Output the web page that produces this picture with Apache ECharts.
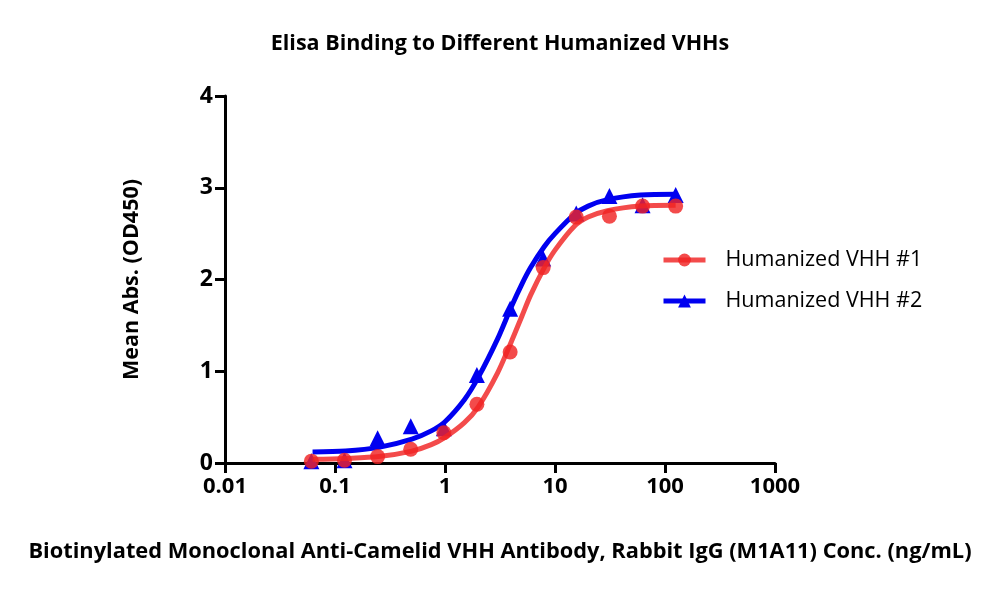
<!DOCTYPE html>
<html>
<head>
<meta charset="utf-8">
<title>Elisa Binding to Different Humanized VHHs</title>
<script src="https://cdn.jsdelivr.net/npm/echarts@6/dist/echarts.min.js"></script>
<style>
  html, body { margin: 0; padding: 0; background: #fff; }
  #chart { width: 1000px; height: 614px; }
</style>
</head>
<body>
<div id="chart"></div>
<script>
// concentrations (ng/mL), 2-fold dilution series
const conc = [0.061, 0.122, 0.244, 0.488, 0.977, 1.95, 3.91, 7.81, 15.6, 31.25, 62.5, 125];
const vhh1 = [0.02, 0.03, 0.07, 0.15, 0.33, 0.64, 1.21, 2.13, 2.68, 2.69, 2.80, 2.80];
const vhh2 = [0.02, 0.03, 0.27, 0.40, 0.38, 0.96, 1.68, 2.23, 2.72, 2.91, 2.81, 2.92];

// fitted curves
const fitX = [0.0625, 0.125, 0.25, 0.5, 0.75, 1, 1.5, 2, 3, 4, 5, 6, 8, 10, 15, 20, 30, 60, 125];
const fit1 = [0.04, 0.05, 0.07, 0.13, 0.20, 0.28, 0.44, 0.61, 0.98, 1.32, 1.60, 1.83, 2.13, 2.32, 2.58, 2.68, 2.75, 2.80, 2.81];
const fit2 = [0.12, 0.13, 0.17, 0.26, 0.35, 0.45, 0.69, 0.93, 1.35, 1.70, 1.95, 2.13, 2.36, 2.50, 2.71, 2.80, 2.87, 2.92, 2.93];

const xTicks = [0.01, 0.1, 1, 10, 100, 1000];
const yTicks = [0, 1, 2, 3, 4];

const names = ['Humanized VHH #1', 'Humanized VHH #2'];
const RED = 'rgba(240, 35, 35, 0.82)';
const BLUE = '#0000f0';
const FONT = '"Open Sans", sans-serif';

const zip = (xs, ys) => xs.map((x, i) => [x, ys[i]]);

const chart = echarts.init(document.getElementById('chart'));

chart.setOption({
  animation: false,
  backgroundColor: '#fff',
  textStyle: { fontFamily: FONT },
  title: {
    text: 'Elisa Binding to Different Humanized VHHs',
    left: 'center',
    top: 28,
    textStyle: { fontSize: 21.5, fontWeight: 'bold', color: '#000', fontFamily: FONT }
  },
  legend: {
    data: names,
    orient: 'vertical',
    left: 656,
    top: 244,
    itemWidth: 42,
    itemHeight: 16,
    itemGap: 19,
    lineStyle: { width: 5 },
    textStyle: { fontSize: 21.5, color: '#000', fontFamily: FONT, padding: [0, 0, 0, 15] }
  },
  grid: { left: 225, right: 225, top: 96, bottom: 151 },
  xAxis: {
    type: 'log',
    logBase: 10,
    min: xTicks[0],
    max: xTicks[xTicks.length - 1],
    name: 'Biotinylated Monoclonal Anti-Camelid VHH Antibody, Rabbit IgG (M1A11) Conc. (ng/mL)',
    nameLocation: 'middle',
    nameGap: 78,
    nameTextStyle: { fontSize: 21.8, fontWeight: 'bold', color: '#000' },
    axisLine: { lineStyle: { color: '#000', width: 3 } },
    axisTick: { length: 10, lineStyle: { color: '#000', width: 3 } },
    axisLabel: {
      fontSize: 22, fontWeight: 'bold', color: '#000', margin: 13,
      formatter: v => String(+v.toPrecision(3))
    },
    splitLine: { show: false }
  },
  yAxis: {
    type: 'value',
    min: yTicks[0],
    max: yTicks[yTicks.length - 1],
    interval: 1,
    name: 'Mean Abs. (OD450)',
    nameLocation: 'middle',
    nameGap: 82,
    nameTextStyle: { fontSize: 21.5, fontWeight: 'bold', color: '#000' },
    axisLine: { show: true, lineStyle: { color: '#000', width: 3 } },
    axisTick: { show: true, length: 10, lineStyle: { color: '#000', width: 3 } },
    axisLabel: { fontSize: 23, fontWeight: 'bold', color: '#000', margin: 12 },
    splitLine: { show: false }
  },
  series: [
    {
      name: names[1], type: 'line', data: zip(fitX, fit2), smooth: 0.3,
      symbol: 'triangle', symbolSize: 16, showSymbol: false,
      itemStyle: { color: BLUE }, lineStyle: { color: BLUE, width: 5 }, z: 2
    },
    {
      name: names[1], type: 'scatter', data: zip(conc, vhh2),
      symbol: 'triangle', symbolSize: 16,
      itemStyle: { color: BLUE, opacity: 1 }, z: 3
    },
    {
      name: names[0], type: 'line', data: zip(fitX, fit1), smooth: 0.3,
      symbol: 'circle', symbolSize: 15, showSymbol: false,
      itemStyle: { color: RED }, lineStyle: { color: RED, width: 5 }, z: 4
    },
    {
      name: names[0], type: 'scatter', data: zip(conc, vhh1),
      symbol: 'circle', symbolSize: 15,
      itemStyle: { color: RED, opacity: 1 }, z: 5
    }
  ]
});
</script>
</body>
</html>
